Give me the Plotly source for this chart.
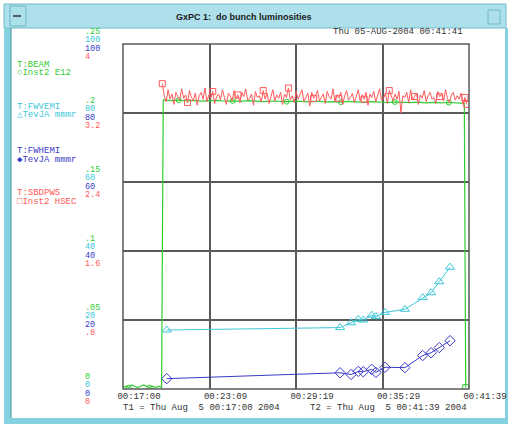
import numpy as np
import plotly.graph_objects as go

# ---------------- data ----------------
# x: seconds since 00:17:00 (T1) ; T2 = 00:41:39 -> 1479 s
x_tickvals = [0, 369.75, 739.5, 1109.25, 1479]
x_ticktext = ["00:17:00", "00:23:09", "00:29:19", "00:35:29", "00:41:39"]

beam_tickvals = [0, 0.05, 0.1, 0.15, 0.2, 0.25]
beam_ticktext = ["0", ".05", ".1", ".15", ".2", ".25"]
emi_tickvals = [0, 20, 40, 60, 80, 100]
emi_ticktext = ["0", "20", "40", "60", "80", "100"]
pws_tickvals = [0, 0.8, 1.6, 2.4, 3.2, 4.0]
pws_ticktext = ["0", ".8", "1.6", "2.4", "3.2", "4"]

# T:BEAM (Inst2 E12)
beam_t_low = [0, 12, 25, 38, 50, 63, 76, 88, 101, 114, 126, 139, 152, 165]
beam_low = [0.001, 0.002, 0.001, 0.003, 0.002, 0.001, 0.002, 0.003, 0.002,
            0.001, 0.002, 0.001, 0.002, 0.001]
beam_t_high_start, beam_t_high_end = 172, 1459
beam_high = [0.2095, 0.2090, 0.2093, 0.2087, 0.2091, 0.2086, 0.2089, 0.2092, 0.2085, 0.2088,
             0.2084, 0.2089, 0.2086, 0.2083, 0.2087, 0.2085, 0.2082, 0.2086, 0.2084, 0.2080,
             0.2085, 0.2081, 0.2083, 0.2079, 0.2084, 0.2080, 0.2077, 0.2082, 0.2079, 0.2076,
             0.2080, 0.2077, 0.2075, 0.2079, 0.2074, 0.2077, 0.2073, 0.2076, 0.2072, 0.2070]
beam_t_last = [1465]
beam_last = [0.001]

# T:SBDPWS (Inst2 HSEC)
pws_t_start, pws_t_end = 168, 1470
pws = [3.54, 3.40, 3.33, 3.47, 3.36, 3.42, 3.30, 3.44, 3.39, 3.35,
       3.48, 3.37, 3.41, 3.32, 3.46, 3.38, 3.34, 3.43, 3.29, 3.40,
       3.44, 3.36, 3.49, 3.33, 3.41, 3.37, 3.45, 3.31, 3.39, 3.42,
       3.35, 3.47, 3.38, 3.30, 3.43, 3.40, 3.34, 3.46, 3.36, 3.41,
       3.32, 3.44, 3.39, 3.48, 3.35, 3.37, 3.42, 3.29, 3.45, 3.38,
       3.40, 3.33, 3.46, 3.36, 3.43, 3.31, 3.39, 3.47, 3.34, 3.41,
       3.37, 3.44, 3.30, 3.42, 3.38, 3.49, 3.35, 3.40, 3.32, 3.45,
       3.36, 3.41, 3.47, 3.33, 3.39, 3.43, 3.28, 3.44, 3.37, 3.40,
       3.46, 3.34, 3.38, 3.42, 3.31, 3.45, 3.39, 3.36, 3.48, 3.33,
       3.41, 3.37, 3.44, 3.30, 3.40, 3.46, 3.35, 3.38, 3.43, 3.32,
       3.39, 3.47, 3.34, 3.41, 3.36, 3.44, 3.29, 3.42, 3.38, 3.45,
       3.33, 3.40, 3.48, 3.35, 3.37, 3.43, 3.31, 3.46, 3.39, 3.34,
       3.42, 3.36, 3.45, 3.20, 3.40, 3.38, 3.44, 3.32, 3.47, 3.35,
       3.39, 3.43, 3.30, 3.41, 3.37, 3.46, 3.33, 3.40, 3.44, 3.36,
       3.38, 3.31, 3.45, 3.39, 3.42, 3.34, 3.47, 3.37, 3.32, 3.41,
       3.44, 3.35, 3.40, 3.36, 3.43, 3.30, 3.38, 3.30]

# T:FWVEMI / T:FWHEMI (TevJA mmmr)
emi_t = [187, 928, 975, 1006, 1027, 1063, 1081, 1120, 1205, 1281, 1317, 1352, 1398]
fwv = [17.1, 17.8, 19.2, 20.2, 20.0, 21.4, 21.0, 22.2, 23.1, 26.5, 27.9, 31.1, 35.3]
fwh = [3.0, 4.7, 4.2, 5.1, 5.0, 5.7, 4.8, 6.3, 6.2, 9.7, 10.5, 12.0, 14.0]

# ---------------- styling ----------------
GREEN = "#33cc33"
CYAN = "#3ec8d8"
BLUE = "#3a3ac8"
RED = "#ff5a5a"
GRID = "#5a5a5a"
MONO = "Liberation Mono, DejaVu Sans Mono, monospace"

W, H = 508, 424
ML, MR, MT, MB = 81, 39, 44, 35
PW = W - ML - MR
PH = H - MT - MB


def px(x):
    return (x - ML) / PW


def py(y):
    return (H - MB - y) / PH


beam_t = beam_t_low + list(np.linspace(beam_t_high_start, beam_t_high_end, len(beam_high))) + beam_t_last
beam = beam_low + beam_high + beam_last
pws_t = list(np.linspace(pws_t_start, pws_t_end, len(pws)))

fig = go.Figure()
fig.add_trace(go.Scatter(x=beam_t, y=beam, mode="lines", line=dict(color=GREEN, width=1.2),
                         yaxis="y", hoverinfo="skip"))
fig.add_trace(go.Scatter(x=beam_t[2::7], y=beam[2::7], mode="markers",
                         marker=dict(symbol="circle-open", color=GREEN, size=5, line=dict(width=1)),
                         yaxis="y", hoverinfo="skip"))
fig.add_trace(go.Scatter(x=beam_t[-1:], y=beam[-1:], mode="markers",
                         marker=dict(symbol="square-open", color=GREEN, size=6, line=dict(width=1)),
                         yaxis="y", hoverinfo="skip"))
fig.add_trace(go.Scatter(x=pws_t, y=pws, mode="lines", line=dict(color=RED, width=1),
                         yaxis="y4", hoverinfo="skip"))
fig.add_trace(go.Scatter(x=pws_t[::13] + pws_t[-1:], y=pws[::13] + pws[-1:], mode="markers",
                         marker=dict(symbol="square-open", color=RED, size=6, line=dict(width=1)),
                         yaxis="y4", hoverinfo="skip"))
fig.add_trace(go.Scatter(x=emi_t, y=fwv, mode="lines+markers", line=dict(color=CYAN, width=1),
                         marker=dict(symbol="triangle-up-open", color=CYAN, size=8, line=dict(width=1)),
                         yaxis="y2", hoverinfo="skip"))
fig.add_trace(go.Scatter(x=emi_t, y=fwh, mode="lines+markers", line=dict(color=BLUE, width=1),
                         marker=dict(symbol="diamond-open", color=BLUE, size=8, line=dict(width=1)),
                         yaxis="y3", hoverinfo="skip"))


def yax(rng, tv, tt, color, shift, grid=False, overlay=None):
    d = dict(range=rng, tickvals=tv, ticktext=tt, anchor="free", position=0,
             ticklabelposition="inside", ticklabeloverflow="allow", ticks="",
             ticklabelshift=shift, ticklabelstandoff=0, automargin=False,
             tickfont=dict(family=MONO, size=8.5, color=color),
             showline=False, zeroline=False, showgrid=grid,
             gridcolor=GRID, gridwidth=1.5, fixedrange=True)
    if overlay:
        d["overlaying"] = overlay
    return d


x0 = px(123)
fig.update_layout(
    width=W, height=H, autosize=False,
    margin=dict(l=ML, r=MR, t=MT, b=MB, pad=0, autoexpand=False),
    paper_bgcolor="white", plot_bgcolor="white",
    showlegend=False,
    xaxis=dict(domain=[x0, 1], range=[0, 1479], tickvals=x_tickvals, ticktext=x_ticktext,
               ticks="", ticklabelshift=16, ticklabelstandoff=0, automargin=False,
               tickfont=dict(family=MONO, size=9, color="#333333"),
               showgrid=True, gridcolor=GRID, gridwidth=1.5, zeroline=False, showline=False,
               fixedrange=True),
    yaxis=yax([0, 0.25], beam_tickvals, beam_ticktext, GREEN, -13, grid=True),
    yaxis2=yax([0, 100], emi_tickvals, emi_ticktext, CYAN, -5, overlay="y"),
    yaxis3=yax([0, 100], emi_tickvals, emi_ticktext, BLUE, 4, overlay="y"),
    yaxis4=yax([0, 4.0], pws_tickvals, pws_ticktext, RED, 12, overlay="y"),
)

shapes = []
# plot frame
shapes.append(dict(type="rect", xref="paper", yref="paper", x0=x0, x1=1, y0=0, y1=1,
                   line=dict(color=GRID, width=1.5), fillcolor="rgba(0,0,0,0)", layer="above"))
# window decorations
FRAME = "#84d2e0"
shapes.append(dict(type="rect", xref="paper", yref="paper", x0=px(4), x1=px(506), y0=py(4), y1=py(28),
                   line=dict(color="#6fb9c8", width=1), fillcolor="#ade0ea", layer="below"))
shapes.append(dict(type="rect", xref="paper", yref="paper", x0=px(10), x1=px(26), y0=py(6), y1=py(26),
                   line=dict(color="#6fb9c8", width=1), fillcolor="#ade0ea", layer="below"))
shapes.append(dict(type="rect", xref="paper", yref="paper", x0=px(488), x1=px(500), y0=py(10), y1=py(24),
                   line=dict(color="#6fb9c8", width=1), fillcolor="#ade0ea", layer="below"))
shapes.append(dict(type="rect", xref="paper", yref="paper", x0=px(4), x1=px(11), y0=py(28), y1=py(421),
                   line=dict(width=0), fillcolor=FRAME, layer="below"))
shapes.append(dict(type="line", xref="paper", yref="paper", x0=px(11), x1=px(11), y0=py(28), y1=py(418),
                   line=dict(color="#4a8a98", width=1), layer="below"))
shapes.append(dict(type="rect", xref="paper", yref="paper", x0=px(4), x1=px(508), y0=py(418), y1=py(424),
                   line=dict(width=0), fillcolor=FRAME, layer="below"))
shapes.append(dict(type="rect", xref="paper", yref="paper", x0=px(505), x1=px(508), y0=py(28), y1=py(424),
                   line=dict(width=0), fillcolor=FRAME, layer="below"))
shapes.append(dict(type="line", xref="paper", yref="paper", x0=px(13), x1=px(21), y0=py(16), y1=py(16),
                   line=dict(color="#333333", width=1.5), layer="below"))
fig.update_layout(shapes=shapes)


def ann(x, y, text, color, size=9, family=MONO, anchor="left"):
    fig.add_annotation(x=px(x), y=py(y), xref="paper", yref="paper", text=text, showarrow=False,
                       xanchor=anchor, yanchor="middle", font=dict(family=family, size=size, color=color))


ann(244, 17, "<b>GxPC 1:  do bunch luminosities</b>", "#1a1a1a", size=9,
    family="Liberation Sans, Arial, sans-serif", anchor="center")
ann(331, 32, "Thu 05-AUG-2004 00:41:41", "#333333")
ann(15, 65, "T:BEAM", GREEN)
ann(15, 73, "○Inst2 E12", GREEN)
ann(15, 107, "T:FWVEMI", CYAN)
ann(15, 115, "△TevJA mmmr", CYAN)
ann(15, 151, "T:FWHEMI", BLUE)
ann(15, 160, "◆TevJA mmmr", BLUE)
ann(15, 193, "T:SBDPWS", RED)
ann(15, 202, "□Inst2 HSEC", RED)
ann(121, 408, "T1 = Thu Aug  5 00:17:00 2004", "#333333")
ann(308, 408, "T2 = Thu Aug  5 00:41:39 2004", "#333333")

fig.write_html("out.html",
               config={"displayModeBar": False, "responsive": False},
               post_script="document.body.style.margin='0';document.body.style.overflow='hidden';")
